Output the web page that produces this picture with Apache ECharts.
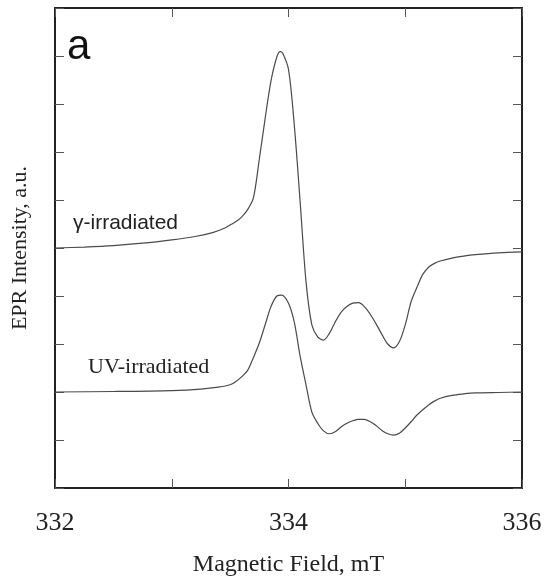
<!DOCTYPE html>
<html>
<head>
<meta charset="utf-8">
<script src="https://cdn.jsdelivr.net/npm/echarts@6/dist/echarts.min.js"></script>
<style>
html,body{margin:0;padding:0;background:#fff;}
#chart{width:550px;height:582px;}
</style>
</head>
<body>
<div id="chart"></div>
<script>
// Magnetic field (mT) and EPR intensity (a.u., offset traces)
var gammaField = [332.00,332.25,332.50,332.75,333.00,333.20,333.35,333.45,333.50,333.55,333.60,333.65,333.70,333.75,333.80,333.85,333.90,333.93,333.95,334.00,334.05,334.10,334.15,334.20,334.25,334.30,334.35,334.40,334.45,334.50,334.55,334.60,334.65,334.70,334.75,334.80,334.85,334.90,334.95,335.00,335.05,335.10,335.15,335.20,335.25,335.30,335.40,335.50,335.60,335.80,336.00];
var gammaValue = [5.00,5.02,5.05,5.10,5.17,5.24,5.32,5.41,5.48,5.55,5.65,5.80,6.05,6.85,7.70,8.48,8.98,9.09,9.06,8.72,7.55,5.95,4.30,3.40,3.15,3.08,3.22,3.46,3.66,3.78,3.85,3.86,3.78,3.62,3.42,3.20,3.00,2.92,3.05,3.40,3.88,4.18,4.45,4.60,4.68,4.73,4.79,4.83,4.86,4.90,4.92];
var uvField = [332.00,332.50,333.00,333.25,333.40,333.50,333.55,333.60,333.65,333.70,333.75,333.80,333.85,333.90,333.94,334.00,334.05,334.10,334.15,334.20,334.25,334.30,334.35,334.40,334.45,334.50,334.55,334.60,334.65,334.70,334.75,334.80,334.85,334.90,334.95,335.00,335.05,335.10,335.15,335.20,335.25,335.30,335.40,335.50,335.60,335.80,336.00];
var uvValue = [2.00,2.01,2.03,2.06,2.10,2.15,2.22,2.32,2.45,2.72,3.02,3.40,3.78,4.00,4.02,3.85,3.45,2.74,2.15,1.58,1.35,1.19,1.13,1.17,1.27,1.35,1.40,1.43,1.43,1.38,1.30,1.20,1.13,1.10,1.14,1.25,1.38,1.52,1.63,1.73,1.81,1.87,1.93,1.96,1.98,1.99,2.00];
var xTickLabels = {332:'332', 334:'334', 336:'336'};
var seriesNames = ['γ-irradiated','UV-irradiated'];

function pairs(xs, ys){ return xs.map(function(x,i){ return [x, ys[i]]; }); }

var frame = {color:'#222', width:2};
var tickStyle = {show:true, inside:true, length:9, lineStyle:{color:'#555', width:1}};

var chart = echarts.init(document.getElementById('chart'), null, {renderer:'canvas'});
chart.setOption({
  animation:false,
  backgroundColor:'#fff',
  grid:{left:55, right:28, top:8, bottom:94, containLabel:false},
  xAxis:[{
    type:'value', min:332, max:336, interval:1, position:'bottom',
    axisLine:{show:true, onZero:false, lineStyle:frame},
    axisTick:tickStyle,
    splitLine:{show:false},
    axisLabel:{margin:22, fontFamily:'Liberation Serif', fontSize:26, color:'#222',
      formatter:function(v){ return xTickLabels[v] || ''; }},
    name:'Magnetic Field, mT', nameLocation:'middle', nameGap:65,
    nameTextStyle:{fontFamily:'Liberation Serif', fontSize:24, color:'#222'}
  },{
    type:'value', min:332, max:336, interval:1, position:'top',
    axisLine:{show:true, onZero:false, lineStyle:frame},
    axisTick:tickStyle, axisLabel:{show:false}, splitLine:{show:false}
  }],
  yAxis:[{
    type:'value', min:0, max:10, interval:1, position:'left',
    axisLine:{show:true, onZero:false, lineStyle:frame},
    axisTick:tickStyle, axisLabel:{show:false}, splitLine:{show:false},
    name:'EPR Intensity, a.u.', nameLocation:'middle', nameGap:24,
    nameTextStyle:{fontFamily:'Liberation Serif', fontSize:22, color:'#222'}
  },{
    type:'value', min:0, max:10, interval:1, position:'right',
    axisLine:{show:true, onZero:false, lineStyle:frame},
    axisTick:tickStyle, axisLabel:{show:false}, splitLine:{show:false}
  }],
  series:[{
    name:seriesNames[0], type:'line', data:pairs(gammaField, gammaValue),
    showSymbol:false, smooth:0.3,
    lineStyle:{color:'#4a4a4a', width:1.2}
  },{
    name:seriesNames[1], type:'line', data:pairs(uvField, uvValue),
    showSymbol:false, smooth:0.3,
    lineStyle:{color:'#4a4a4a', width:1.2}
  }],
  graphic:[
    {type:'text', left:67, top:26, style:{text:'a', font:'42px "Liberation Sans", Arial, sans-serif', fill:'#111'}},
    {type:'text', left:73, top:213, style:{text:seriesNames[0], font:'21px "Liberation Sans", Arial, sans-serif', fill:'#222'}},
    {type:'text', left:88, top:356, style:{text:seriesNames[1], font:'22px "Liberation Serif", "Times New Roman", serif', fill:'#222'}}
  ]
});
</script>
</body>
</html>
